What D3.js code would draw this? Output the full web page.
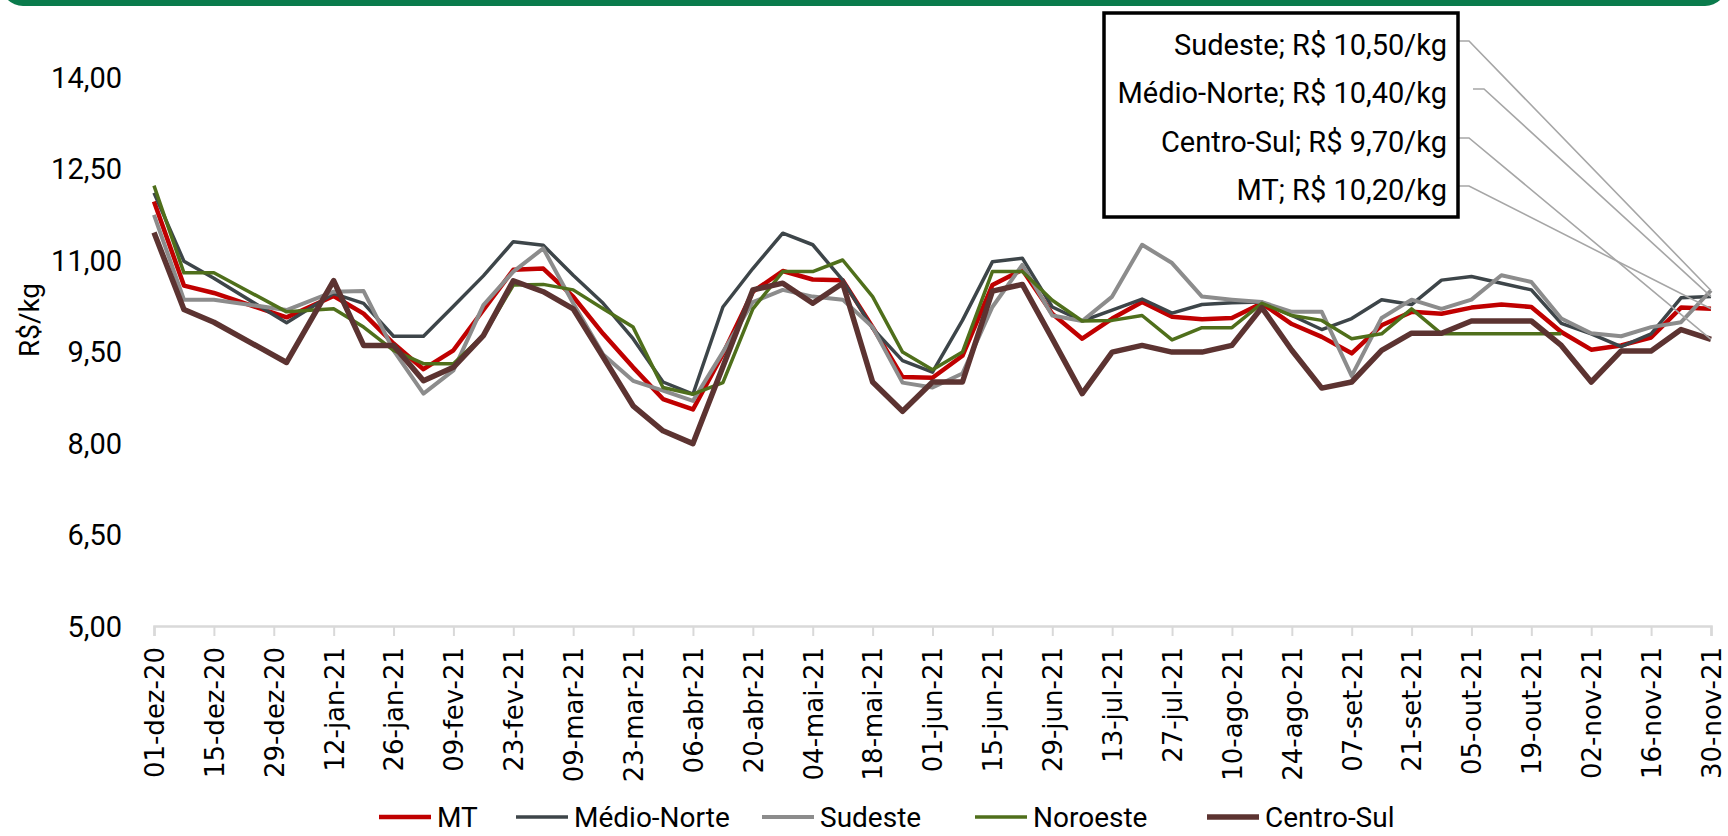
<!DOCTYPE html>
<html>
<head>
<meta charset="utf-8">
<script src="https://cdn.jsdelivr.net/npm/d3@7"></script>
<style>
  body { margin: 0; background: #fff; }
  #chart svg { display: block; }
</style>
</head>
<body>
<div id="chart"></div>
<script>
// data (weekly prices, R$/kg)
var dates = ["2020-12-01", "2020-12-08", "2020-12-15", "2021-01-01", "2021-01-12", "2021-01-19", "2021-01-26",
    "2021-02-02", "2021-02-09", "2021-02-16", "2021-02-23", "2021-03-02", "2021-03-09", "2021-03-16", "2021-03-23",
    "2021-03-30", "2021-04-06", "2021-04-13", "2021-04-20", "2021-04-27", "2021-05-04", "2021-05-11", "2021-05-18",
    "2021-05-25", "2021-06-01", "2021-06-08", "2021-06-15", "2021-06-22", "2021-06-29", "2021-07-06", "2021-07-13",
    "2021-07-20", "2021-07-27", "2021-08-03", "2021-08-10", "2021-08-17", "2021-08-24", "2021-08-31", "2021-09-07",
    "2021-09-14", "2021-09-21", "2021-09-28", "2021-10-05", "2021-10-12", "2021-10-19", "2021-10-26", "2021-11-02",
    "2021-11-09", "2021-11-16", "2021-11-23", "2021-11-30"];

var mt = [11.96, 10.58, 10.46, 10.06, 10.41, 10.12, 9.63, 9.21, 9.52, 10.18, 10.84, 10.86, 10.40, 9.79, 9.24,
    8.72, 8.55, 9.46, 10.48, 10.82, 10.68, 10.67, 9.90, 9.08, 9.07, 9.43, 10.59, 10.84, 10.12, 9.71, 10.04,
    10.31, 10.07, 10.03, 10.05, 10.29, 9.95, 9.74, 9.47, 9.93, 10.15, 10.12, 10.22, 10.27, 10.23, 9.82, 9.53,
    9.60, 9.73, 10.22, 10.20];
var medioNorte = [12.10, 10.98, 10.70, 9.97, 10.45, 10.29, 9.75, 9.75, 10.24, 10.74, 11.30, 11.24, 10.75, 10.29, 9.71,
    9.00, 8.80, 10.23, 10.86, 11.44, 11.25, 10.67, 9.88, 9.35, 9.16, 10.01, 10.97, 11.03, 10.23, 10.00, 10.18,
    10.36, 10.13, 10.27, 10.30, 10.31, 10.09, 9.86, 10.04, 10.35, 10.27, 10.67, 10.73, 10.62, 10.51, 9.96, 9.79,
    9.58, 9.79, 10.38, 10.40];
var sudeste = [11.74, 10.35, 10.35, 10.18, 10.48, 10.49, 9.52, 8.81, 9.19, 10.26, 10.81, 11.19, 10.29, 9.45, 9.02,
    8.86, 8.69, 9.49, 10.31, 10.51, 10.40, 10.35, 9.90, 8.99, 8.91, 9.14, 10.23, 10.92, 10.09, 10.00, 10.40,
    11.25, 10.95, 10.40, 10.35, 10.31, 10.15, 10.15, 9.10, 10.05, 10.35, 10.20, 10.35, 10.75, 10.64, 10.04, 9.80,
    9.75, 9.90, 9.98, 10.50];
var noroeste = [12.22, 10.79, 10.79, 10.15, 10.20, 9.90, 9.52, 9.30, 9.30, 9.76, 10.59, 10.60, 10.51, 10.20, 9.90,
    8.91, 8.80, 8.99, 10.20, 10.81, 10.81, 11.00, 10.40, 9.49, 9.20, 9.49, 10.81, 10.81, 10.34, 10.00, 10.01,
    10.09, 9.69, 9.89, 9.89, 10.29, 10.09, 10.01, 9.71, 9.79, 10.20, 9.79, 9.79, 9.79, 9.79, 9.79, null,
    null, null, null, null];
var centroSul = [11.45, 10.19, 9.98, 9.32, 10.66, 9.60, 9.60, 9.02, 9.24, 9.76, 10.66, 10.48, 10.20, 9.41, 8.61,
    8.20, 7.99, 9.25, 10.51, 10.62, 10.29, 10.62, 9.00, 8.52, 9.00, 9.00, 10.49, 10.60, 9.71, 8.81, 9.49,
    9.60, 9.49, 9.49, 9.60, 10.22, 9.52, 8.90, 9.00, 9.52, 9.80, 9.80, 10.00, 10.00, 10.00, 9.60, 9.00,
    9.51, 9.51, 9.86, 9.70];

var seriesNames = ["MT", "Médio-Norte", "Sudeste", "Noroeste", "Centro-Sul"];
var seriesValues = [mt, medioNorte, sudeste, noroeste, centroSul];
var seriesColors = ["#c00000", "#3d4549", "#8c8c8c", "#4f6f1b", "#5c3331"];
var seriesWidths = [4.5, 3.5, 4, 3.5, 5.5];

var yTicks = [5, 6.5, 8, 9.5, 11, 12.5, 14];
var tickLabels = ["01-dez-20", "15-dez-20", "29-dez-20", "12-jan-21", "26-jan-21", "09-fev-21", "23-fev-21",
    "09-mar-21", "23-mar-21", "06-abr-21", "20-abr-21", "04-mai-21", "18-mai-21", "01-jun-21", "15-jun-21",
    "29-jun-21", "13-jul-21", "27-jul-21", "10-ago-21", "24-ago-21", "07-set-21", "21-set-21", "05-out-21",
    "19-out-21", "02-nov-21", "16-nov-21", "30-nov-21"];

// last-value callouts (order inside the box)
var calloutSeries = ["Sudeste", "Médio-Norte", "Centro-Sul", "MT"];
var calloutText = ["Sudeste; R$ 10,50/kg", "Médio-Norte; R$ 10,40/kg", "Centro-Sul; R$ 9,70/kg", "MT; R$ 10,20/kg"];

makePlot();

function makePlot() {
    // STEP 1: SET UP THE CANVAS
    var svgWidth = 1728;
    var svgHeight = 836;

    var svg = d3.select("#chart")
        .append("svg")
        .attr("width", svgWidth)
        .attr("height", svgHeight);

    // green header strip
    svg.append("rect")
        .attr("x", 1)
        .attr("y", -40)
        .attr("width", svgWidth - 2)
        .attr("height", 46)
        .attr("rx", 22)
        .attr("fill", "#0a7b4c");

    // STEP 2: PREPARE THE DATA
    var ptBR = d3.timeFormatLocale({
        dateTime: "%d/%m/%Y %H:%M:%S", date: "%d/%m/%Y", time: "%H:%M:%S",
        periods: ["AM", "PM"],
        days: ["domingo", "segunda", "terça", "quarta", "quinta", "sexta", "sábado"],
        shortDays: ["dom", "seg", "ter", "qua", "qui", "sex", "sáb"],
        months: ["janeiro", "fevereiro", "março", "abril", "maio", "junho", "julho", "agosto", "setembro", "outubro", "novembro", "dezembro"],
        shortMonths: ["jan", "fev", "mar", "abr", "mai", "jun", "jul", "ago", "set", "out", "nov", "dez"]
    });
    var parseDate = d3.timeParse("%Y-%m-%d");
    var parseTick = ptBR.parse("%d-%b-%y");

    var dateObjs = dates.map(parseDate);
    var tickDates = tickLabels.map(parseTick);

    var series = seriesNames.map(function(name, i) {
        return {
            name: name,
            color: seriesColors[i],
            width: seriesWidths[i],
            values: dateObjs.map(function(d, j) {
                return { date: d, value: seriesValues[i][j] };
            })
        };
    });

    // STEP 3: SCALES
    var xScale = d3.scaleTime()
        .domain([tickDates[0], tickDates[tickDates.length - 1]])
        .range([154, 1711]);

    var yScale = d3.scaleLinear()
        .domain([5, 14])
        .range([626, 77]);

    var fmt = function(d) { return d3.format(".2f")(d).replace(".", ","); };

    // STEP 4: AXES
    var leftAxis = d3.axisLeft(yScale)
        .tickValues(yTicks)
        .tickSize(0)
        .tickPadding(0)
        .tickFormat(fmt);

    var yAxis = svg.append("g")
        .attr("transform", "translate(122, 0)")
        .call(leftAxis);
    yAxis.select(".domain").remove();
    yAxis.selectAll("text")
        .attr("font-family", "Roboto, sans-serif")
        .attr("font-size", 29)
        .attr("fill", "#000")
        .attr("dy", "0.36em");

    var bottomAxis = d3.axisBottom(xScale)
        .tickValues(tickDates)
        .tickSize(10)
        .tickFormat(function(d, i) { return tickLabels[i]; });

    var xAxis = svg.append("g")
        .attr("transform", "translate(0, " + yScale(5) + ")")
        .call(bottomAxis);
    xAxis.select(".domain")
        .attr("stroke", "#d9d9d9")
        .attr("stroke-width", 2.5);
    xAxis.selectAll(".tick line")
        .attr("stroke", "#d9d9d9")
        .attr("stroke-width", 2);
    xAxis.selectAll("text")
        .attr("transform", "rotate(-90)")
        .attr("x", -21)
        .attr("y", 0)
        .attr("dy", "0.36em")
        .style("text-anchor", "end")
        .attr("font-family", "'DejaVu Sans', Verdana, sans-serif")
        .attr("font-size", 26)
        .attr("fill", "#000");

    // axis title
    svg.append("text")
        .attr("transform", "translate(29, 320) rotate(-90)")
        .attr("text-anchor", "middle")
        .attr("dominant-baseline", "central")
        .attr("font-family", "Roboto, sans-serif")
        .attr("font-size", 28)
        .attr("fill", "#000")
        .text("R$/kg");

    // STEP 5: LINES
    var line = d3.line()
        .defined(function(d) { return d.value != null; })
        .x(function(d) { return xScale(d.date); })
        .y(function(d) { return yScale(d.value); });

    svg.append("g")
        .selectAll("path")
        .data(series)
        .enter()
        .append("path")
        .attr("d", function(d) { return line(d.values); })
        .attr("fill", "none")
        .attr("stroke", function(d) { return d.color; })
        .attr("stroke-width", function(d) { return d.width; })
        .attr("stroke-linejoin", "round");

    // STEP 6: CALLOUT BOX
    var boxX = 1104, boxY = 13, boxW = 354, boxH = 204;
    var rowY = [45, 93, 142, 190];

    var lastIdx = dates.length - 1;
    var leaderGroup = svg.append("g");
    calloutSeries.forEach(function(name, i) {
        var s = seriesValues[seriesNames.indexOf(name)];
        var startX = (name === "Médio-Norte") ? 1473 : boxX + boxW;
        var ly = rowY[i] - 4;
        leaderGroup.append("polyline")
            .attr("points", [
                [startX, ly],
                [startX + 11, ly],
                [xScale(dateObjs[lastIdx]), yScale(s[lastIdx])]
            ].join(" "))
            .attr("fill", "none")
            .attr("stroke", "#a6a6a6")
            .attr("stroke-width", 1.6);
    });

    svg.append("rect")
        .attr("x", boxX)
        .attr("y", boxY)
        .attr("width", boxW)
        .attr("height", boxH)
        .attr("fill", "#fff")
        .attr("stroke", "#000")
        .attr("stroke-width", 3.5);

    svg.append("g")
        .selectAll("text")
        .data(calloutText)
        .enter()
        .append("text")
        .attr("x", boxX + boxW - 11)
        .attr("y", function(d, i) { return rowY[i]; })
        .attr("dominant-baseline", "central")
        .attr("text-anchor", "end")
        .attr("font-family", "Roboto, sans-serif")
        .attr("font-size", 29)
        .attr("fill", "#000")
        .text(function(d) { return d; });

    // STEP 7: LEGEND
    var legendX = [379, 516, 762, 975, 1207];
    var legendY = 817;
    var legend = svg.append("g")
        .selectAll("g")
        .data(series)
        .enter()
        .append("g")
        .attr("transform", function(d, i) { return "translate(" + legendX[i] + ", " + legendY + ")"; });

    legend.append("line")
        .attr("x1", 0)
        .attr("x2", 52)
        .attr("stroke", function(d) { return d.color; })
        .attr("stroke-width", function(d) { return d.width; });

    legend.append("text")
        .attr("x", 58)
        .attr("dominant-baseline", "central")
        .attr("font-family", "Roboto, sans-serif")
        .attr("font-size", 28)
        .attr("fill", "#000")
        .text(function(d) { return d.name; });
}
</script>
</body>
</html>
